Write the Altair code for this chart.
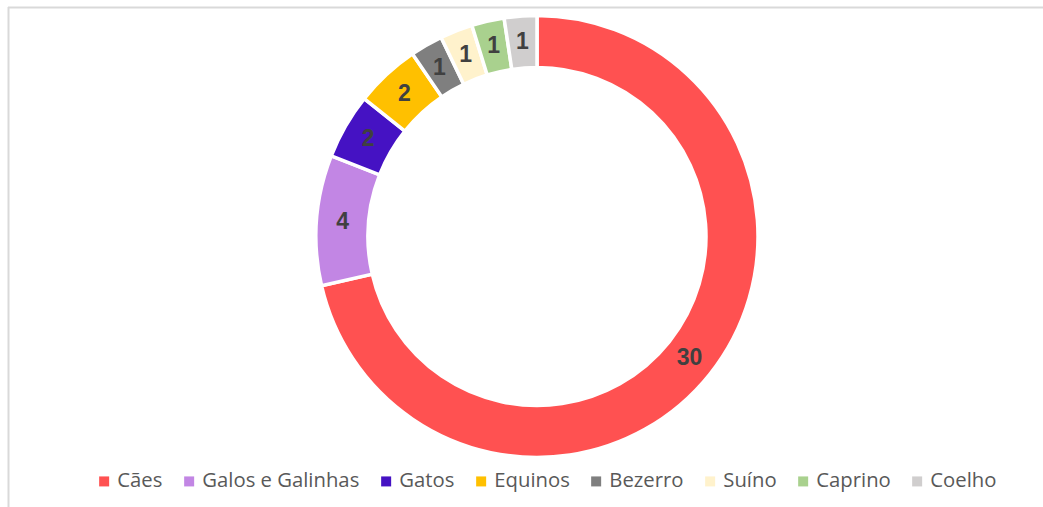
import altair as alt
import pandas as pd

categories = ["Cães", "Galos e Galinhas", "Gatos", "Equinos", "Bezerro", "Suíno", "Caprino", "Coelho"]
values = [30, 4, 2, 2, 1, 1, 1, 1]
colors = ["#FF5151", "#C286E4", "#4512C3", "#FFC000", "#7F7F7F", "#FFF2CC", "#A9D18E", "#D0CECE"]

df = pd.DataFrame({"animal": categories, "n": values, "ordem": list(range(len(categories)))})

W, H = 1000, 440
PL, PT = 37, 16.5
PR, PB = 1043 - PL - W, 507 - PT - H

base = alt.Chart(df).encode(
    theta=alt.Theta("n:Q", stack=True),
    order=alt.Order("ordem:Q", sort="ascending"),
)

arc = base.mark_arc(outerRadius=221, innerRadius=169, stroke="white", strokeWidth=3.5).encode(
    color=alt.Color(
        "animal:N",
        scale=alt.Scale(domain=categories, range=colors),
        sort=categories,
        legend=alt.Legend(
            orient="none",
            direction="horizontal",
            legendX=94 - PL,
            legendY=471 - PT,
            padding=0,
            title=None,
            symbolType="square",
            symbolSize=100,
            symbolStrokeWidth=0,
            labelFont="Open Sans",
            labelFontSize=20.3,
            labelColor="#595959",
            labelOffset=3,
            columnPadding=16,
        ),
    )
)

text = base.mark_text(radius=195, font="Liberation Sans", fontWeight="bold", fontSize=23, color="#404040").encode(
    text=alt.Text("n:Q")
)

border_df = pd.DataFrame({"a": [0]})
top_rule = alt.Chart(border_df).mark_rule(color="#D9D9D9", strokeWidth=2).encode(
    x=alt.value(8 - PL), x2=alt.value(1043 - PL), y=alt.value(7.5 - PT)
)
left_rule = alt.Chart(border_df).mark_rule(color="#D9D9D9", strokeWidth=2).encode(
    x=alt.value(8.5 - PL), y=alt.value(7 - PT), y2=alt.value(507 - PT)
)

chart = alt.layer(top_rule, left_rule, arc, text).properties(
    width=W,
    height=H,
    padding={"left": PL, "top": PT, "right": PR, "bottom": PB},
    autosize=alt.AutoSizeParams(type="none"),
    background="white",
).configure_view(stroke=None)

chart.save("out.html", embed_options={"renderer": "svg", "actions": False})
